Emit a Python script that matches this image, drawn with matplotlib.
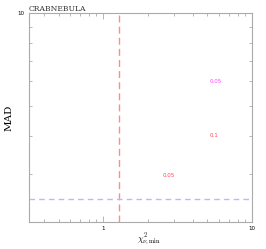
import matplotlib
matplotlib.use('Agg')
import matplotlib.pyplot as plt
from matplotlib.ticker import LogLocator, NullFormatter, FixedLocator, FixedFormatter

source_name = 'CRABNEBULA'
chi2_cut = 1.27
mad_cut = 2.5
label_x = [5.69, 5.54, 2.75]
label_y = [6.0, 4.0, 2.98]
label_text = ['0.05', '0.1', '0.05']
label_color = ['#ff44ff', '#ff4455', '#ff4455']

plt.rcParams['mathtext.fontset'] = 'cm'
fig = plt.figure(figsize=(2.66, 2.49), dpi=100)
ax = fig.add_axes([0.109, 0.108, 0.838, 0.84])
ax.set_xscale('log')
ax.set_yscale('log')
ax.set_xlim(10**-0.5, 10)
ax.set_ylim(2.1, 10)

ax.axvline(chi2_cut, color='#ff8a95', linestyle=(0, (5, 3)), linewidth=1.0)
ax.axhline(mad_cut, color='#b8b8ff', linestyle=(0, (4, 3)), linewidth=1.0)

for x, y, t, c in zip(label_x, label_y, label_text, label_color):
  ax.text(x, y, t, color=c, fontsize=4, ha='center', va='center')

ax.xaxis.set_major_locator(FixedLocator([1, 10]))
ax.xaxis.set_major_formatter(FixedFormatter(['1', '10']))
ax.xaxis.set_minor_locator(LogLocator(base=10, subs=range(2, 10)))
ax.xaxis.set_minor_formatter(NullFormatter())
ax.yaxis.set_major_locator(FixedLocator([10]))
ax.yaxis.set_major_formatter(FixedFormatter(['10']))
ax.yaxis.set_minor_locator(LogLocator(base=10, subs=range(2, 10)))
ax.yaxis.set_minor_formatter(NullFormatter())

for s in ax.spines.values():
  s.set_color('#aaaaaa')
  s.set_linewidth(0.8)
ax.tick_params(which='both', direction='in', top=True, right=True, color='#aaaaaa', labelsize=4, pad=3)
ax.tick_params(which='major', length=4, width=0.6)
ax.tick_params(which='minor', length=2.5, width=0.6)

ax.set_xlabel(r'$\chi^2_{\nu,\mathrm{min}}$', fontsize=6.5)
ax.xaxis.set_label_coords(0.54, -0.045, transform=ax.transAxes)
ax.xaxis.label.set_va('top')
ax.set_ylabel('MAD', fontsize=7.5, family='DejaVu Serif')
ax.yaxis.set_label_coords(-0.07, 0.5, transform=ax.transAxes)
ax.text(0.0, 1.0, source_name, transform=ax.transAxes, fontsize=5.5, family='DejaVu Serif', ha='left', va='bottom', color='#333333')

plt.savefig('out.png', dpi=100)
